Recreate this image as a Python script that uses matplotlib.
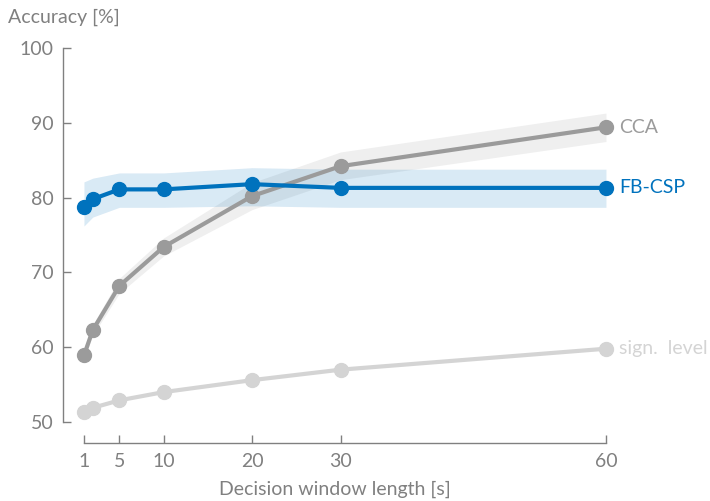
import matplotlib
matplotlib.use("Agg")
import matplotlib.pyplot as plt

plt.rcParams['font.family'] = ['Lato', 'DejaVu Sans']

window = [1, 2, 5, 10, 20, 30, 60]
xtick_labels = ["1", "5", "10", "20", "30", "60"]
xticks = [1, 5, 10, 20, 30, 60]
yticks = [50, 60, 70, 80, 90, 100]

cca = [58.9, 62.3, 68.2, 73.4, 80.2, 84.2, 89.4]
cca_lo = [58.4, 61.6, 67.2, 72.2, 78.4, 82.4, 87.5]
cca_hi = [59.4, 63.0, 69.2, 74.6, 82.0, 86.1, 91.3]

fbcsp = [78.7, 79.8, 81.1, 81.1, 81.8, 81.3, 81.3]
fbcsp_lo = [76.2, 77.4, 78.7, 78.7, 78.9, 78.7, 78.7]
fbcsp_hi = [82.1, 82.6, 83.3, 83.3, 84.0, 83.8, 83.8]

sign_level = [51.3, 51.9, 52.9, 54.0, 55.6, 57.0, 59.8]

blue = '#0072BD'
gray = '#9b9b9b'
light = '#d4d4d4'
text_gray = '#808080'

fig = plt.figure(figsize=(7.10, 5.01), dpi=100)
ax = fig.add_axes([0.0887, 0.1158, 0.7648, 0.7884])

ax.fill_between(window, cca_lo, cca_hi, color='#efefef', lw=0, zorder=1)
ax.fill_between(window, fbcsp_lo, fbcsp_hi, color='#0072BD', alpha=0.15, lw=0, zorder=1)

ax.plot(window, sign_level, color=light, lw=3, marker='o', ms=10, clip_on=False, zorder=3)
ax.plot(window, cca, color=gray, lw=3, marker='o', ms=10, clip_on=False, zorder=3)
ax.plot(window, fbcsp, color=blue, lw=3, marker='o', ms=10, clip_on=False, zorder=4)

fs = 14
ax.text(61.5, cca[-1], 'CCA', color=gray, fontsize=fs, va='center', ha='left')
ax.text(61.5, fbcsp[-1], 'FB-CSP', color=blue, fontsize=fs, va='center', ha='left')
ax.text(61.5, sign_level[-1], 'sign.  level', color=light, fontsize=fs, va='center', ha='left')

ax.set_xlim(-1.37, 60)
ax.set_ylim(47.2, 100)

for s in ['top', 'right']:
    ax.spines[s].set_visible(False)
ax.spines['left'].set_bounds(50, 100)
ax.spines['bottom'].set_bounds(1, 60)
for s in ['left', 'bottom']:
    ax.spines[s].set_color(text_gray)
    ax.spines[s].set_linewidth(1.0)

ax.set_xticks(xticks)
ax.set_xticklabels(xtick_labels)
ax.set_yticks(yticks)
ax.tick_params(direction='in', length=6, width=1, color=text_gray,
               labelcolor=text_gray, labelsize=fs, pad=7)

ax.set_xlabel('Decision window length [s]', color=text_gray, fontsize=fs, labelpad=8)
fig.text(0.011, 0.965, 'Accuracy [%]', color=text_gray, fontsize=fs, ha='left', va='center')

fig.savefig('out.png', dpi=100)
